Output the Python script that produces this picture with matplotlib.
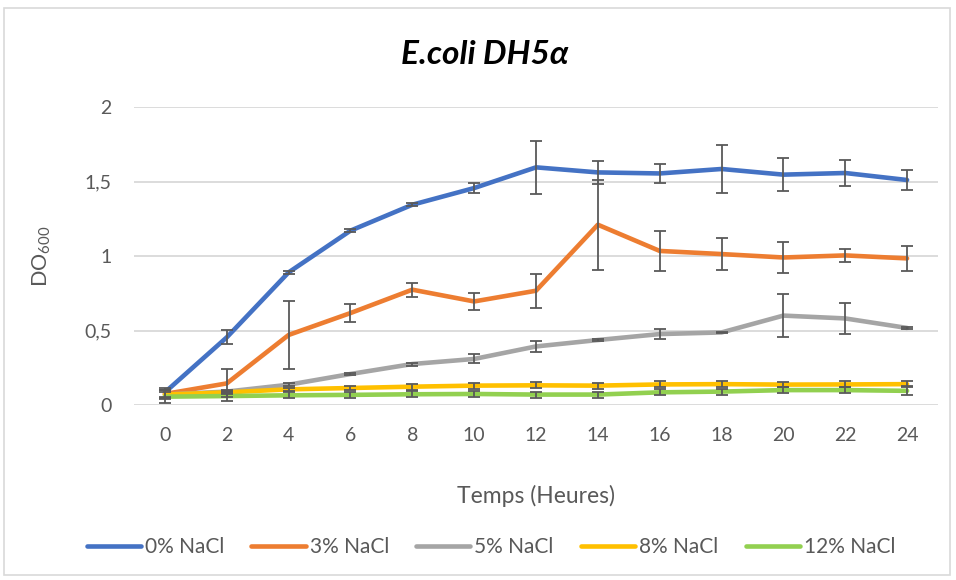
import matplotlib
matplotlib.use("Agg")
import matplotlib.pyplot as plt
from matplotlib.patches import Rectangle

plt.rcParams['font.family'] = ['Lato', 'DejaVu Sans']
plt.rcParams['mathtext.default'] = 'regular'

hours = [0, 2, 4, 6, 8, 10, 12, 14, 16, 18, 20, 22, 24]
labels = ['0% NaCl', '3% NaCl', '5% NaCl', '8% NaCl', '12% NaCl']
colors = ['#4472C4', '#ED7D31', '#A5A5A5', '#FFC000', '#92D050']

nacl0 = [0.085, 0.454, 0.89, 1.17, 1.344, 1.456, 1.595, 1.561, 1.554, 1.584, 1.546, 1.557, 1.51]
nacl0_err = [0.03, 0.047, 0.01, 0.01, 0.01, 0.036, 0.177, 0.076, 0.064, 0.158, 0.112, 0.087, 0.068]
nacl3 = [0.074, 0.145, 0.47, 0.617, 0.774, 0.695, 0.767, 1.21, 1.034, 1.013, 0.99, 1.004, 0.984]
nacl3_err = [0.03, 0.094, 0.23, 0.063, 0.047, 0.056, 0.114, 0.303, 0.132, 0.105, 0.107, 0.045, 0.084]
nacl5 = [0.07, 0.09, 0.136, 0.208, 0.275, 0.309, 0.393, 0.436, 0.476, 0.487, 0.6, 0.581, 0.517]
nacl5_err = [0.02, 0.01, 0.01, 0.01, 0.01, 0.03, 0.039, 0.005, 0.034, 0.005, 0.144, 0.104, 0.005]
nacl8 = [0.07, 0.085, 0.105, 0.114, 0.123, 0.13, 0.132, 0.13, 0.138, 0.14, 0.137, 0.138, 0.14]
nacl8_err = [0.03, 0.01, 0.01, 0.015, 0.02, 0.02, 0.02, 0.02, 0.02, 0.02, 0.015, 0.02, 0.02]
nacl12 = [0.056, 0.06, 0.065, 0.068, 0.072, 0.074, 0.07, 0.07, 0.085, 0.09, 0.1, 0.1, 0.095]
nacl12_err = [0.045, 0.03, 0.02, 0.02, 0.02, 0.02, 0.02, 0.02, 0.02, 0.02, 0.02, 0.02, 0.03]

series = [nacl0, nacl3, nacl5, nacl8, nacl12]
errors = [nacl0_err, nacl3_err, nacl5_err, nacl8_err, nacl12_err]

fig = plt.figure(figsize=(9.56, 5.80), dpi=100)
ax = fig.add_axes([134/956, 1 - 405/580, (938 - 134)/956, (405 - 107)/580])

for y, e, c, lab in zip(series, errors, colors, labels):
    ax.plot(hours, y, color=c, lw=3.3, label=lab, solid_capstyle='round', zorder=3)
    ax.errorbar(hours, y, yerr=e, fmt='none', ecolor='#595959', elinewidth=1.3,
                capsize=4.5, capthick=1.3, zorder=4)

ax.set_xlim(-1, 25)
ax.set_ylim(0, 2)
ax.set_xticks(hours)
ax.set_xticklabels([str(h) for h in hours])
ax.set_yticks([0, 0.5, 1, 1.5, 2])
ax.set_yticklabels(['0', '0,5', '1', '1,5', '2'])
ax.tick_params(axis='both', length=0, labelsize=14, colors='#595959')
ax.tick_params(axis='x', pad=16)
ax.tick_params(axis='y', pad=16)
ax.grid(axis='y', color='#D9D9D9', lw=1.3)
ax.set_axisbelow(True)
for s in ax.spines.values():
    s.set_visible(False)

fig.text(536/956, (580 - 496)/580, 'Temps (Heures)', fontsize=16.5, color='#595959',
         ha='center', va='center')
fig.text(42/956, (580 - 256)/580, 'DO$_{600}$', fontsize=15.5, color='#595959',
         ha='center', va='center', rotation=90)

fig.text(485/956, (580 - 55)/580, 'E.coli DH5α', fontsize=24, fontweight='bold',
         fontstyle='italic', color='black', ha='center', va='center')

leg = fig.legend(*ax.get_legend_handles_labels(), loc='center',
                 bbox_to_anchor=(491/956, (580 - 547)/580),
                 ncol=5, frameon=False, fontsize=15, handlelength=2.6,
                 columnspacing=1.3, handletextpad=0.2, borderpad=0)
for t in leg.get_texts():
    t.set_color('#595959')
for h in leg.get_lines():
    h.set_linewidth(3.3)

fig.patches.append(Rectangle((4/956, 5/580), 946/956, 567/580, transform=fig.transFigure,
                             fill=False, edgecolor='#D9D9D9', lw=1.2))

fig.savefig('out.png', dpi=100)
